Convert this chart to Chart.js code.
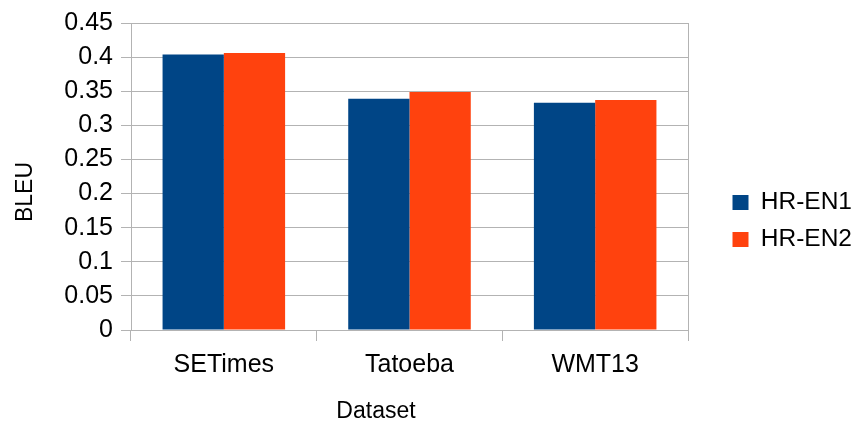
<!DOCTYPE html>
<html>
<head>
<meta charset="utf-8">
<script src="https://cdn.jsdelivr.net/npm/chart.js@4/dist/chart.umd.min.js"></script>
<style>
  html, body { margin: 0; padding: 0; background: #ffffff; }
  #wrap { width: 854px; height: 422px; }
</style>
</head>
<body>
<div id="wrap"><canvas id="chart" width="854" height="422"></canvas></div>
<script>
// BLEU scores per dataset for the two HR-EN systems
const categories = ['SETimes', 'Tatoeba', 'WMT13'];
const seriesNames = ['HR-EN1', 'HR-EN2'];
const hrEn1 = [0.404, 0.339, 0.333];
const hrEn2 = [0.406, 0.349, 0.337];
const yTickLabels = ['0', '0.05', '0.1', '0.15', '0.2', '0.25', '0.3', '0.35', '0.4', '0.45'];
const xTitle = 'Dataset';
const yTitle = 'BLEU';

const FONT = '"Liberation Sans", Arial, sans-serif';
const GRID = '#b3b3b3';

// Axis captions, placed beside the plot area
const axisTitles = {
  id: 'axisTitles',
  afterDraw(chart) {
    const ctx = chart.ctx;
    ctx.save();
    ctx.fillStyle = '#000000';
    ctx.textAlign = 'center';
    ctx.textBaseline = 'alphabetic';
    ctx.font = '23px ' + FONT;
    ctx.fillText(xTitle, 376, 418);
    ctx.translate(32, 192);
    ctx.rotate(-Math.PI / 2);
    ctx.font = '23px ' + FONT;
    ctx.fillText(yTitle, 0, 0);
    ctx.restore();
  }
};

new Chart(document.getElementById('chart'), {
  type: 'bar',
  data: {
    labels: categories,
    datasets: [
      { label: seriesNames[0], data: hrEn1, backgroundColor: '#004586', borderWidth: 0 },
      { label: seriesNames[1], data: hrEn2, backgroundColor: '#ff420e', borderWidth: 0 }
    ]
  },
  options: {
    responsive: false,
    animation: false,
    layout: { padding: { top: 20, right: 0, bottom: 0, left: 0 } },
    datasets: {
      bar: { categoryPercentage: 0.66, barPercentage: 1.0 }
    },
    scales: {
      x: {
        offset: true,
        grid: { display: true, drawOnChartArea: false, drawTicks: true, tickLength: 11, color: GRID, offset: true },
        border: { display: true, color: GRID, width: 1 },
        ticks: { color: '#000000', font: { family: FONT, size: 25 }, padding: 9, maxRotation: 0 },
        afterFit(scale) { scale.height = 92; }
      },
      y: {
        min: 0,
        max: 0.45,
        grid: { color: GRID, tickLength: 10, drawTicks: true },
        border: { display: true, color: GRID, width: 1 },
        ticks: {
          stepSize: 0.05,
          color: '#000000',
          font: { family: FONT, size: 25 },
          padding: 8,
          callback(value) {
            const hit = yTickLabels.find(l => Math.abs(parseFloat(l) - value) < 1e-9);
            return hit === undefined ? '' : hit;
          }
        },
        afterFit(scale) { scale.width = 131; }
      },
      frame: {
        type: 'linear',
        position: 'right',
        display: true,
        grid: { display: false, drawTicks: false },
        border: { display: true, color: GRID, width: 1 },
        ticks: { display: false },
        afterFit(scale) { scale.width = 32; }
      }
    },
    plugins: {
      legend: {
        position: 'right',
        maxWidth: 134,
        labels: {
          color: '#000000',
          font: { family: FONT, size: 24.5 },
          boxWidth: 16,
          boxHeight: 15,
          padding: 12.5
        }
      },
      tooltip: { enabled: false }
    }
  },
  plugins: [axisTitles]
});
</script>
</body>
</html>
